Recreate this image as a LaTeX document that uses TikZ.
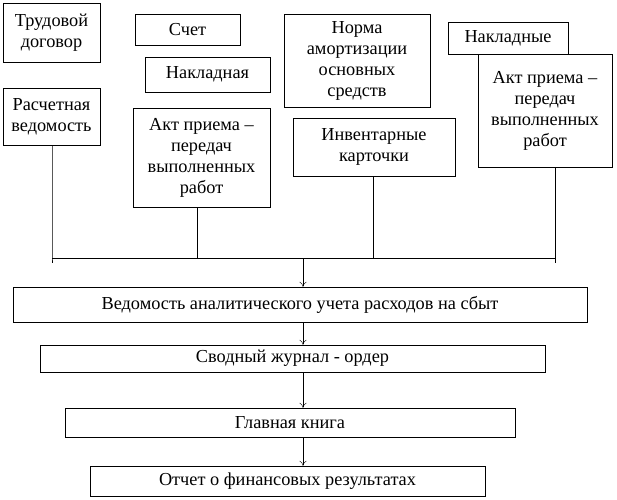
\documentclass[tikz,border=0pt]{standalone}
\usepackage{fontspec}
\setmainfont{Liberation Serif}
\usetikzlibrary{arrows.meta}
\begin{document}
\begin{tikzpicture}[x=1pt,y=-1pt,
  box/.style={draw,thin,align=center,inner sep=1pt,font=\fontsize{18.3}{21}\selectfont},
  conn/.style={thin},
  arr/.style={thin,-{To[length=5pt,width=7pt]}}]
\useasboundingbox (0,0) rectangle (617,499);
\newcommand\bx[6]{\node[box,minimum width=#4-#2,minimum height=#5-#3] (#1) at ({(#2+#4)/2},{(#3+#5)/2}) {#6};}
\bx{td}{3}{3}{100}{62}{Трудовой\\договор}
\bx{sch}{135}{14}{240}{45}{Счет}
\bx{nak}{145}{57}{270}{92}{Накладная}
\bx{norm}{284}{14}{430}{107}{Норма\\амортизации\\основных\\средств}
\bx{naks}{448}{22}{568}{54}{Накладные}
\bx{rv}{3}{88}{100}{145}{Расчетная\\ведомость}
\bx{akt1}{133}{108}{270}{207}{Акт приема –\\передач\\выполненных\\работ}
\bx{inv}{293}{118}{455}{176}{Инвентарные\\карточки}
\bx{akt2}{478}{54}{612}{167}{Акт приема –\\передач\\выполненных\\работ}
\bx{ved}{13}{287}{587}{322}{Ведомость аналитического учета расходов на сбыт}
\bx{svod}{40}{345}{545}{372}{Сводный журнал - ордер}
\bx{gk}{65}{408}{515}{437}{Главная книга}
\bx{otch}{90}{466}{485}{496}{Отчет о финансовых результатах}
\coordinate (L) at (52,258); \coordinate (R) at (555,258); \coordinate (M) at (303,258);
\coordinate (c1) at (197,258); \coordinate (c2) at (373,258);
\draw[conn] (rv.south -| L) -- (L) -- ++(0,5);
\draw[conn] (akt1.south -| c1) -- (c1);
\draw[conn] (inv.south -| c2) -- (c2);
\draw[conn] (akt2.south -| R) -- (R) -- ++(0,5);
\draw[conn] (L) -- (R);
\draw[arr] (M) -- (ved.north -| M);
\draw[arr] (ved.south -| M) -- (svod.north -| M);
\draw[arr] (svod.south -| M) -- (gk.north -| M);
\draw[arr] (gk.south -| M) -- (otch.north -| M);
\end{tikzpicture}
\end{document}
